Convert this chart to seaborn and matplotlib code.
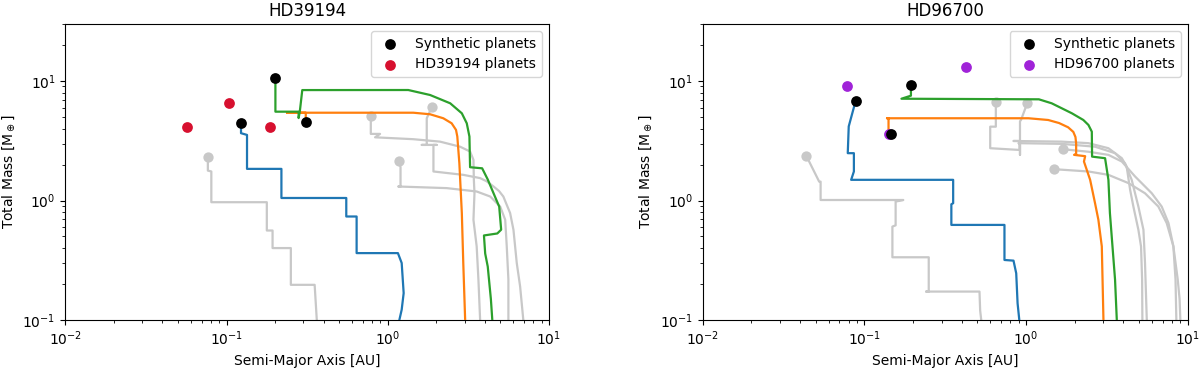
"""
plot.py
Formation tracks (mass vs. semi-major axis) for HD39194 and HD96700.
"""

import matplotlib
matplotlib.use("Agg")
import matplotlib.pyplot as plt
import seaborn as sns

# ---- HD39194 (left panel) ----
L_BLUE_A = [0.123, 0.123, 0.134, 0.134, 0.219, 0.219, 0.553, 0.553, 0.641, 0.641, 1.156, 1.22, 1.255, 1.22, 1.18]
L_BLUE_M = [4.45, 3.66, 3.54, 1.84, 1.84, 1.05, 1.05, 0.735, 0.735, 0.363, 0.363, 0.30, 0.168, 0.122, 0.10]

L_ORANGE_A = [0.31, 0.31, 0.237, 1.44, 1.83, 2.21, 2.49, 2.65, 2.70, 2.78, 2.88, 2.94, 3.02]
L_ORANGE_M = [4.55, 5.43, 5.43, 5.43, 5.27, 4.88, 4.43, 3.90, 3.43, 2.05, 0.785, 0.30, 0.10]

L_GREEN_A = [0.201, 0.201, 0.28, 0.28, 0.285, 0.295, 1.34, 1.83, 2.44, 2.88, 3.09, 3.21, 3.24,
             3.85, 4.17, 4.53, 4.91, 5.05, 4.78, 3.95, 4.02, 4.17, 4.36, 4.45]
L_GREEN_M = [10.5, 5.54, 5.54, 4.9, 5.6, 8.4, 8.41, 7.64, 6.51, 5.37, 4.43, 3.43, 1.9,
             1.86, 1.5, 1.15, 0.89, 0.57, 0.53, 0.51, 0.36, 0.28, 0.15, 0.10]

L_GREY1_A = [0.0766, 0.0766, 0.0805, 0.0805, 0.1778, 0.1778, 0.193, 0.193, 0.2506, 0.2506, 0.352, 0.363]
L_GREY1_M = [2.30, 1.78, 1.75, 0.968, 0.968, 0.561, 0.561, 0.40, 0.40, 0.197, 0.197, 0.10]
L_GREY2_A = [0.785, 0.785, 0.896, 0.834, 1.44, 2.11, 2.81, 3.24, 3.40, 3.42, 3.45, 3.40, 3.56, 3.65, 3.74]
L_GREY2_M = [5.10, 3.61, 3.61, 3.38, 3.26, 3.11, 2.82, 2.57, 2.19, 1.49, 1.15, 0.69, 0.413, 0.218, 0.10]
L_GREY3_A = [1.875, 1.745, 1.745, 1.625, 2.01, 1.92, 1.92, 2.94, 3.74, 4.10, 4.53, 4.90, 5.21, 5.74,
             6.02, 6.31, 6.62, 6.93]
L_GREY3_M = [6.03, 4.88, 2.92, 2.92, 2.92, 2.92, 1.75, 1.64, 1.54, 1.45, 1.31, 1.20, 1.08, 0.785,
             0.569, 0.30, 0.191, 0.10]
L_GREY4_A = [1.175, 1.20, 1.20, 1.16, 2.32, 3.56, 4.32, 4.98, 5.35, 5.47, 5.60, 5.60]
L_GREY4_M = [2.15, 1.9, 1.31, 1.31, 1.27, 1.19, 1.08, 0.89, 0.69, 0.413, 0.218, 0.10]

L_GREYDOT_A = [0.0766, 0.785, 1.875, 1.175]
L_GREYDOT_M = [2.30, 5.10, 6.03, 2.15]

L_SYN_A = [0.123, 0.201, 0.31]
L_SYN_M = [4.45, 10.5, 4.55]
L_OBS_A = [0.0565, 0.104, 0.186]
L_OBS_M = [4.15, 6.6, 4.15]

# ---- HD96700 (right panel) ----
R_BLUE_A = [0.0882, 0.080, 0.0789, 0.0861, 0.0861, 0.0828, 0.354, 0.354, 0.345, 0.345,
            0.735, 0.735, 0.836, 0.869, 0.886, 0.908]
R_BLUE_M = [6.79, 4.17, 2.49, 2.49, 1.75, 1.49, 1.49, 0.95, 0.93, 0.625,
            0.625, 0.318, 0.314, 0.246, 0.138, 0.10]

R_ORANGE_A = [0.141, 0.141, 0.138, 1.035, 1.37, 1.60, 1.82, 1.96, 2.02, 2.04, 2.04, 1.98, 2.32,
              2.28, 2.49, 2.67, 2.80, 2.94, 3.01]
R_ORANGE_M = [3.6, 4.88, 4.88, 4.88, 4.72, 4.45, 4.10, 3.75, 3.40, 3.0, 2.45, 2.41, 2.35,
              2.12, 1.49, 0.95, 0.69, 0.413, 0.10]

R_GREEN_A = [0.194, 0.194, 0.1695, 1.20, 1.44, 1.66, 1.92, 2.26, 2.43, 2.55, 2.56, 3.08, 3.23,
             3.30, 3.55, 3.64]
R_GREEN_M = [9.2, 7.54, 7.11, 7.03, 6.51, 5.92, 5.37, 4.72, 4.29, 3.77, 2.33, 2.26, 1.49,
             0.785, 0.218, 0.10]

R_GREY1_A = [0.0437, 0.0525, 0.0536, 0.0536, 0.174, 0.156, 0.156, 0.149, 0.149, 0.25, 0.25,
             0.241, 0.515, 0.52, 0.528]
R_GREY1_M = [2.37, 1.44, 1.44, 1.01, 1.01, 0.98, 0.62, 0.605, 0.335, 0.335, 0.173,
             0.173, 0.173, 0.12, 0.10]
R_GREY2_A = [0.65, 0.65, 0.60, 0.60, 0.91, 0.91, 0.897, 1.66, 2.67, 3.55, 4.09, 4.50, 4.95, 5.32, 5.44, 5.58]
R_GREY2_M = [6.72, 4.15, 4.15, 2.74, 2.65, 3.02, 3.02, 2.98, 2.82, 2.49, 2.05, 1.49, 0.89, 0.569, 0.30, 0.10]
R_GREY3_A = [1.02, 0.93, 0.917, 0.917, 0.917, 0.835, 1.66, 2.43, 3.23, 3.91, 4.19, 4.40, 4.61, 4.95,
             5.14, 5.22, 5.24]
R_GREY3_M = [6.59, 4.72, 4.6, 2.41, 3.15, 3.15, 3.11, 3.02, 2.74, 2.26, 1.92, 1.23, 0.89, 0.569,
             0.413, 0.218, 0.10]
R_GREY4_A = [1.68, 2.43, 3.23, 3.91, 4.72, 5.99, 6.90, 7.60, 8.15, 8.40, 8.50]
R_GREY4_M = [2.69, 2.56, 2.41, 2.12, 1.59, 1.15, 0.89, 0.647, 0.413, 0.218, 0.10]
R_GREY5_A = [1.48, 2.43, 3.23, 4.29, 5.44, 6.58, 7.41, 8.15, 8.67, 8.90, 9.00]
R_GREY5_M = [1.83, 1.75, 1.64, 1.40, 1.15, 0.89, 0.647, 0.413, 0.218, 0.15, 0.10]

R_GREYDOT_A = [0.0437, 0.65, 1.02, 1.68, 1.48]
R_GREYDOT_M = [2.37, 6.72, 6.59, 2.69, 1.83]

R_SYN_A = [0.0882, 0.194, 0.1466]
R_SYN_M = [6.79, 9.2, 3.6]
R_OBS_A = [0.0778, 0.425, 0.1417]
R_OBS_M = [9.15, 13.2, 3.6]

GREY = "#c8c8c8"
TRACK_COLORS = ["#1f77b4", "#ff7f0e", "#2ca02c"]


def draw_panel(ax, title, greys, grey_dots, tracks, syn, obs, obs_label, obs_color):
    for a, m in greys:
        sns.lineplot(x=a, y=m, sort=False, estimator=None, color=GREY, lw=1.6,
                     ax=ax, legend=False, zorder=1)
    sns.scatterplot(x=grey_dots[0], y=grey_dots[1], color=GREY, s=55, linewidth=0,
                    ax=ax, zorder=2, legend=False)
    for (a, m), c in zip(tracks, TRACK_COLORS):
        sns.lineplot(x=a, y=m, sort=False, estimator=None, color=c, lw=1.6,
                     ax=ax, legend=False, zorder=3)
    sns.scatterplot(x=syn[0], y=syn[1], color="black", s=60, linewidth=0,
                    label="Synthetic planets", ax=ax, zorder=5)
    sns.scatterplot(x=obs[0], y=obs[1], color=obs_color, s=60, linewidth=0,
                    label=obs_label, ax=ax, zorder=4)

    ax.set_xscale("log")
    ax.set_yscale("log")
    ax.set_xlim(1e-2, 1e1)
    ax.set_ylim(1e-1, 30)
    ax.set_title(title, fontsize=12)
    ax.set_xlabel("Semi-Major Axis [AU]", fontsize=10)
    ax.set_ylabel(r"Total Mass [M$_\oplus$]", fontsize=10)
    ax.tick_params(labelsize=10)
    ax.legend(loc="upper right", fontsize=10)


fig = plt.figure(figsize=(12, 3.7), dpi=100)
ax_l = fig.add_axes([0.0544, 0.1351, 0.4031, 0.8])
ax_r = fig.add_axes([0.5856, 0.1351, 0.4042, 0.8])

draw_panel(
    ax_l, "HD39194",
    [(L_GREY1_A, L_GREY1_M), (L_GREY2_A, L_GREY2_M), (L_GREY3_A, L_GREY3_M), (L_GREY4_A, L_GREY4_M)],
    (L_GREYDOT_A, L_GREYDOT_M),
    [(L_BLUE_A, L_BLUE_M), (L_ORANGE_A, L_ORANGE_M), (L_GREEN_A, L_GREEN_M)],
    (L_SYN_A, L_SYN_M), (L_OBS_A, L_OBS_M), "HD39194 planets", "#d7102f",
)
draw_panel(
    ax_r, "HD96700",
    [(R_GREY1_A, R_GREY1_M), (R_GREY2_A, R_GREY2_M), (R_GREY3_A, R_GREY3_M),
     (R_GREY4_A, R_GREY4_M), (R_GREY5_A, R_GREY5_M)],
    (R_GREYDOT_A, R_GREYDOT_M),
    [(R_BLUE_A, R_BLUE_M), (R_ORANGE_A, R_ORANGE_M), (R_GREEN_A, R_GREEN_M)],
    (R_SYN_A, R_SYN_M), (R_OBS_A, R_OBS_M), "HD96700 planets", "#a023d8",
)

fig.savefig("out.png", dpi=100)
plt.close(fig)
